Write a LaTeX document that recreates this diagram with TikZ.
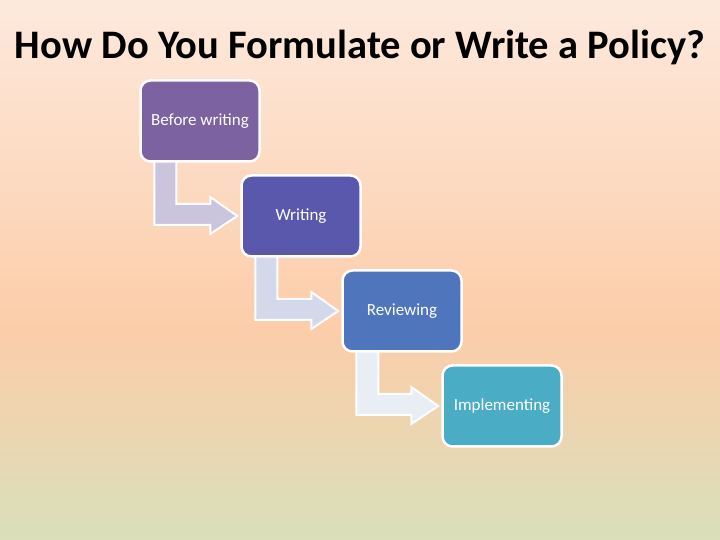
\documentclass[tikz,border=0pt]{standalone}
\usepackage{fontspec}
\setmainfont{Carlito}
\usepackage{tikz}
\usetikzlibrary{calc}
\definecolor{bgtop}{HTML}{FDE9DC}
\definecolor{bgmid}{HTML}{FCCDA9}
\definecolor{bgbot}{HTML}{D9E0BA}
\definecolor{stepA}{HTML}{7D62A2}
\definecolor{stepB}{HTML}{5A58AC}
\definecolor{stepC}{HTML}{4F76BC}
\definecolor{stepD}{HTML}{4BACC6}
\definecolor{arrA}{HTML}{CAC4DC}
\definecolor{arrB}{HTML}{D4D8EB}
\definecolor{arrC}{HTML}{E8EEF3}
\pgfdeclarelayer{bg}
\pgfdeclarelayer{arrows}
\pgfsetlayers{bg,arrows,main}
\tikzset{%
	stepbox/.style = {name = #1, rectangle, rounded corners = 10pt, draw = white, line width = 2.5pt,
		minimum width = 119pt, minimum height = 81pt, text = white, font = \fontsize{17}{20}\selectfont},
	bentarrow/.style = {draw = white, line width = 2pt, fill = #1}
}
% bent block arrow from the bottom of one box to the left side of the next
\newcommand\steparrow[3]{%
	\begin{pgfonlayer}{arrows}
	\draw [bentarrow = #3] let \p1 = (#1.south west), \p2 = (#2.west) in
		(\x1+15,\y1+3) -- (\x1+37,\y1+3) -- (\x1+37,\y2+12) -- (\x2-30,\y2+12) -- (\x2-30,\y2+19)
		-- (\x2-3,\y2) -- (\x2-30,\y2-18) -- (\x2-30,\y2-9) -- (\x1+15,\y2-9) -- cycle;
	\end{pgfonlayer}
}

\begin{document}
\begin{tikzpicture}[x = 1pt, y = 1pt]
		\begin{pgfonlayer}{bg}
		\fill [top color = bgtop, bottom color = bgmid] (0,210) rectangle (720,540);
		\fill [top color = bgmid, bottom color = bgbot] (0,0) rectangle (720,210.5);
		\end{pgfonlayer}
		\useasboundingbox (0,0) rectangle (720,540);
		\node [font = \fontsize{40.5}{44}\selectfont\bfseries] (title) at (360,493) {How Do You Formulate or Write a Policy?};
		\node [stepbox = {before}, fill = stepA] at (200,419) {Before writing};
		\node [stepbox = {writing}, fill = stepB] at (301,324) {Writing};
		\node [stepbox = {review}, fill = stepC] at (402,229) {Reviewing};
		\node [stepbox = {impl}, fill = stepD] at (502,134) {Implementing};
		\steparrow{before}{writing}{arrA}
		\steparrow{writing}{review}{arrB}
		\steparrow{review}{impl}{arrC}
		\end{tikzpicture}
\end{document}
